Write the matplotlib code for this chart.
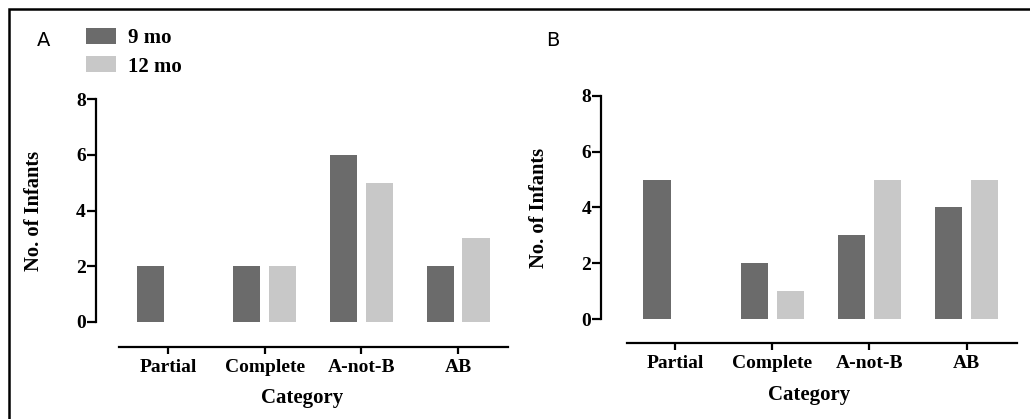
import numpy as np
import matplotlib
matplotlib.use("Agg")
import matplotlib.pyplot as plt
from matplotlib.patches import Rectangle

# --- Data ---
categories = ["Partial", "Complete", "A-not-B", "AB"]
a_9mo = [2, 2, 6, 2]
a_12mo = [0, 2, 5, 3]
b_9mo = [5, 2, 3, 4]
b_12mo = [0, 1, 5, 5]

dark = "#6b6b6b"
light = "#c8c8c8"
serif = "Liberation Serif"

W, H = 1030, 419
fig = plt.figure(figsize=(W / 100, H / 100), dpi=100)


def px(x0, y_top, x1, y_bot):
    return [x0 / W, 1 - y_bot / H, (x1 - x0) / W, (y_bot - y_top) / H]


def panel(rect, y9, y12, xlim, xbounds, offset, ylab_x):
    ax = fig.add_axes(rect)
    x = np.arange(len(categories))
    w = 0.28
    d = 0.185
    ax.bar(x - d, y9, width=w, color=dark, label="9 mo")
    ax.bar(x + d, y12, width=w, color=light, label="12 mo")
    ax.set_xlim(*xlim)
    ax.set_ylim(0, 8)
    ax.set_yticks([0, 2, 4, 6, 8])
    ax.set_xticks(x)
    ax.set_xticklabels(categories)
    for s in ["top", "right"]:
        ax.spines[s].set_visible(False)
    ax.spines["left"].set_bounds(0, 8)
    ax.spines["bottom"].set_bounds(*xbounds)
    ax.spines["bottom"].set_position(("outward", offset))
    for s in ["left", "bottom"]:
        ax.spines[s].set_linewidth(1.6)
    ax.tick_params(axis="y", width=1.6, length=6.5, pad=0.5)
    ax.tick_params(axis="x", width=1.6, length=5, pad=3.5)
    for lab in ax.get_xticklabels() + ax.get_yticklabels():
        lab.set_fontfamily(serif)
        lab.set_fontweight("bold")
        lab.set_fontsize(14)
    ax.set_xlabel("Category", fontfamily=serif, fontweight="bold", fontsize=15, labelpad=9)
    ax.set_ylabel("No. of Infants", fontfamily=serif, fontweight="bold", fontsize=14.8)
    ax.yaxis.set_label_coords(ylab_x, 0.5)
    return ax


axA = panel(px(95.7, 99, 508, 322), a_9mo, a_12mo, (-0.748, 3.516), (-0.507, 3.516), 18, -0.126)
axB = panel(px(601, 95.7, 1016.7, 319.3), b_9mo, b_12mo, (-0.761, 3.515), (-0.497, 3.515), 17.3, -0.126)

fig.text(37 / W, 1 - 41 / H, "A", fontsize=14, va="center", ha="left")
fig.text(546 / W, 1 - 41 / H, "B", fontsize=14, va="center", ha="left")

h, l = axA.get_legend_handles_labels()
fig.legend(h, l, loc="upper left", bbox_to_anchor=(86 / W, 1 - 28 / H),
           frameon=False, borderpad=0, borderaxespad=0,
           handlelength=1.45, handleheight=0.78, handletextpad=0.55,
           labelspacing=0.4, prop={"family": serif, "weight": "bold", "size": 15})

# outer frame of the figure
fig.add_artist(Rectangle((8.5 / W, -0.1), 1.2, 1.1 - 9.5 / H, transform=fig.transFigure,
                         fill=False, edgecolor="black", linewidth=1.8, clip_on=False))

fig.savefig("out.png", dpi=100)
